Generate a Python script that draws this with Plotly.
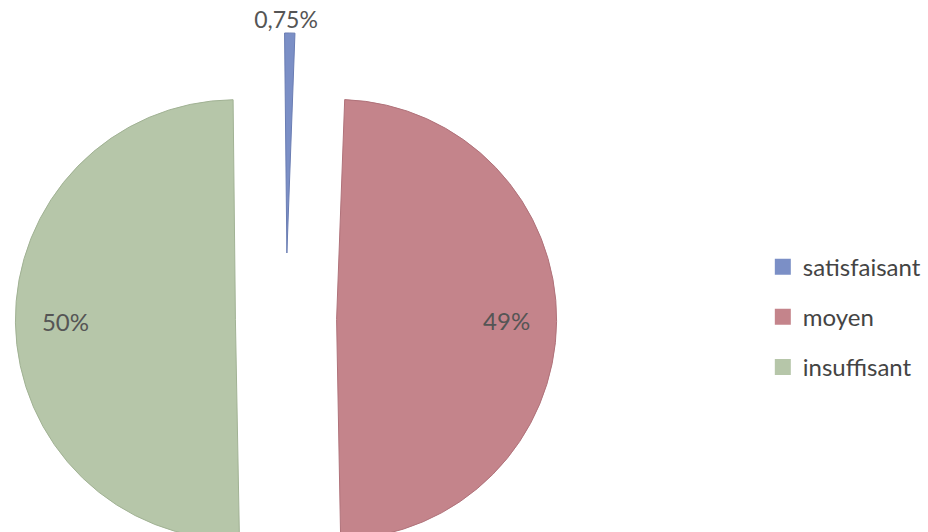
import plotly.graph_objects as go

labels = ["satisfaisant", "moyen", "insuffisant"]
values = [0.75, 49, 50]
colors = ["#7b8fc6", "#c4848b", "#b6c6a9"]
edge_colors = ["#6a7db3", "#b0727a", "#a1b294"]
pulls = [0.3, 0.23, 0.23]

FONT = "Lato, Open Sans, sans-serif"
TEXT_COLOR = "#555555"

total = sum(values)
share = [v / total * 100 for v in values]


def fr(x, nd):
    return f"{x:.{nd}f}%".replace(".", ",")


# small slice: label centred above the slice (pie title), big slices: inside,
# padded so the label sits near the outer edge as in the original
EM = "\u2003"
EN = "\u2002"
slice_text = ["", EN + EM * 6 + fr(share[1], 0), fr(share[2], 0) + EM * 6 + EN]

fig = go.Figure()
fig.add_trace(go.Pie(
    labels=labels,
    values=values,
    sort=False,
    direction="clockwise",
    rotation=-0.6,
    pull=pulls,
    text=slice_text,
    textinfo="text",
    textposition="inside",
    insidetextorientation="horizontal",
    automargin=False,
    textfont=dict(family=FONT, size=24, color=TEXT_COLOR),
    title=dict(text=fr(share[0], 2), position="top center",
               font=dict(family=FONT, size=23, color=TEXT_COLOR)),
    marker=dict(colors=colors, line=dict(color=edge_colors, width=1)),
    domain=dict(x=[0, 0.6164], y=[0, 1]),
    showlegend=False,
    hoverinfo="label+percent",
))

# legend entries
for lab, col in zip(labels, colors):
    fig.add_trace(go.Scatter(
        x=[None], y=[None], mode="markers", name=lab, legendgroup=lab,
        marker=dict(symbol="square", size=16, color=col,
                    line=dict(color="white", width=0)),
        showlegend=True,
    ))

fig.update_layout(
    width=928,
    height=606,
    autosize=False,
    margin=dict(l=0, r=0, t=4, b=0, autoexpand=False),
    paper_bgcolor="white",
    plot_bgcolor="white",
    xaxis=dict(visible=False),
    yaxis=dict(visible=False),
    legend=dict(
        x=0.822, y=0.48, xanchor="left", yanchor="middle",
        font=dict(family=FONT, size=24, color="#444444"),
        tracegroupgap=16,
        itemwidth=30,
    ),
)

fig.write_html("out.html")
